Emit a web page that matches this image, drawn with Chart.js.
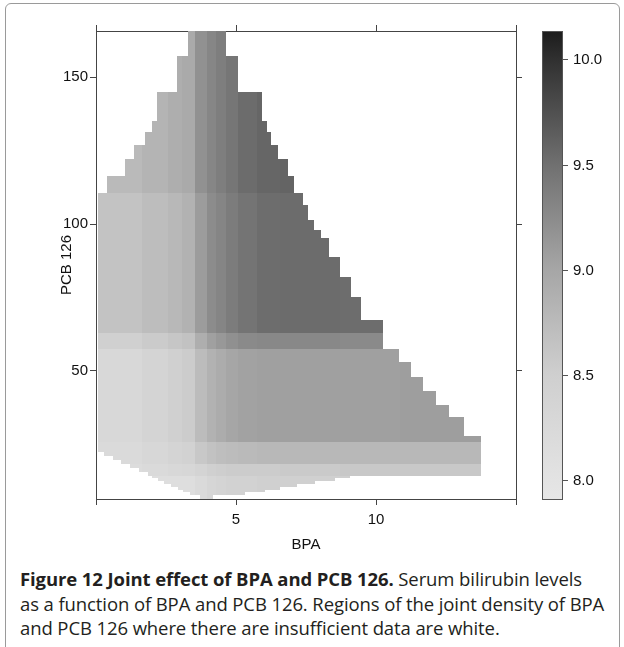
<!DOCTYPE html>
<html>
<head>
<meta charset="utf-8">
<title>Joint effect of BPA and PCB 126</title>
<script src="https://cdn.jsdelivr.net/npm/chart.js"></script>
<style>
  body { margin: 0; background: #fff; }
  #frame { position: absolute; left: 5px; top: 3px; width: 613px; height: 700px; border: 1px solid #9a9a9a; border-radius: 6px; }
  #levelplot { position: absolute; left: 0; top: 0; }
  #caption { position: absolute; left: 20px; top: 567px; font-family: "Open Sans", sans-serif; font-size: 18.5px; line-height: 24.5px; color: #231f20; white-space: nowrap; letter-spacing: -0.1px; }
  #caption b { font-weight: 700; }
</style>
</head>
<body>
<div id="frame"></div>
<canvas id="levelplot" width="624" height="560"></canvas>
<div id="caption"><b>Figure 12 Joint effect of BPA and PCB 126.</b> Serum bilirubin levels<br>as a function of BPA and PCB 126. Regions of the joint density of BPA<br>and PCB 126 where there are insufficient data are white.</div>

<script>
    // BPA column edges and PCB 126 bands, each cell carries one shade
    const bpaEdges = [0, 1.64, 2.57, 3.07, 3.54, 3.96, 4.29, 4.64, 5.07, 5.75, 6.57, 7.29, 8.71, 10.86, 13.75];
    const pcbBands = [6.46, 14.3, 18.4, 25.9, 57.5, 62.9, 110.5, 165.65];

    // fitted serum bilirubin, one row per PCB band (bottom to top), one value per BPA column
    const bilirubinG = [8.13, 8.13, 8.13, 8.13, 8.23, 8.33, 8.38, 8.43, 8.43, 8.48, 8.48, 8.48, 8.50, 8.50];
    const bilirubinF = [8.18, 8.23, 8.28, 8.30, 8.38, 8.48, 8.51, 8.54, 8.54, 8.54, 8.56, 8.56, 8.59, 8.59];
    const bilirubinE = [8.23, 8.30, 8.38, 8.43, 8.59, 8.66, 8.71, 8.73, 8.76, 8.78, 8.78, 8.78, 8.78, 8.78];
    const bilirubinD = [8.28, 8.38, 8.48, 8.54, 8.73, 8.85, 8.93, 9.00, 9.04, 9.06, 9.06, 9.06, 9.06, 9.07];
    const bilirubinC = [8.48, 8.55, 8.61, 8.66, 8.90, 9.06, 9.13, 9.20, 9.26, 9.28, 9.28, 9.28, 9.26, 9.26];
    const bilirubinB = [8.65, 8.72, 8.78, 8.85, 9.09, 9.24, 9.31, 9.39, 9.46, 9.52, 9.53, 9.53, 9.52, 9.52];
    const bilirubinA = [8.76, 8.83, 8.90, 8.95, 9.19, 9.30, 9.37, 9.44, 9.53, 9.58, 9.59, 9.59, 9.59, 9.59];
    const bilirubin = [bilirubinG, bilirubinF, bilirubinE, bilirubinD, bilirubinC, bilirubinB, bilirubinA];

    // where the joint density has enough data: PCB row edges and BPA range per row
    const densityPcb = [6.46, 7.82, 8.84, 9.52, 10.54, 11.56, 12.59, 13.61, 14.3, 15.65, 17.01, 18.4, 19.73, 21.09,
        22.45, 27.89, 34.35, 38.44, 43.2, 47.96, 53.06, 57.5, 67.35, 75.17, 81.97, 88.78, 95.24, 97.96, 101.36,
        106.46, 110.5, 116.33, 122.11, 126.87, 131.29, 135.03, 144.9, 157.14, 165.65];
    const densityBpaMin = [3.71, 3.36, 3.11, 2.93, 2.68, 2.43, 2.21, 2.0, 1.86, 1.54, 1.21, 0.89, 0.59, 0.29,
        0.08, 0.08, 0.08, 0.08, 0.08, 0.08, 0.08, 0.08, 0.08, 0.08, 0.08, 0.08, 0.08, 0.08, 0.08, 0.08,
        0.39, 1.04, 1.36, 1.75, 2.0, 2.18, 2.89, 3.29];
    const densityBpaMax = [4.18, 5.32, 6.04, 6.57, 7.18, 7.82, 8.54, 9.07, 13.75, 13.75, 13.75, 13.75, 13.75, 13.75,
        13.75, 13.14, 12.61, 12.14, 11.68, 11.25, 10.82, 10.25, 9.46, 9.11, 8.71, 8.32, 8.04, 7.79, 7.57, 7.39,
        7.07, 6.86, 6.5, 6.25, 6.11, 5.93, 5.07, 4.64];

    const bpaTicks = [0, 5, 10, 15];
    const bpaTickLabels = ['', '5', '10', ''];
    const pcbTicks = [50, 100, 150];
    const keyTicks = [8.0, 8.5, 9.0, 9.5, 10.0];

    // gray ramp of the colour key
    const rampValues = [7.91, 8.0, 8.5, 9.0, 9.5, 10.0, 10.135];
    const rampGrays = [230, 227, 207, 166, 112, 48, 28];

    function gray(g) {
        return 'rgb(' + g + ',' + g + ',' + g + ')';
    }

    function shade(v) {
        let i = 0;
        while (i < rampValues.length - 2 && v > rampValues[i + 1]) i++;
        let t = (v - rampValues[i]) / (rampValues[i + 1] - rampValues[i]);
        t = Math.min(1, Math.max(0, t));
        return gray(Math.round(rampGrays[i] + t * (rampGrays[i + 1] - rampGrays[i])));
    }

    // cut each density row by the bands and columns it crosses
    const cells = [];
    for (let r = 0; r < densityBpaMin.length; r++) {
        for (let b = 0; b < bilirubin.length; b++) {
            const y0 = Math.max(densityPcb[r], pcbBands[b]);
            const y1 = Math.min(densityPcb[r + 1], pcbBands[b + 1]);
            if (y1 <= y0) continue;
            for (let c = 0; c < bpaEdges.length - 1; c++) {
                const x0 = Math.max(densityBpaMin[r], bpaEdges[c]);
                const x1 = Math.min(densityBpaMax[r], bpaEdges[c + 1]);
                if (x1 <= x0) continue;
                cells.push({x: (x0 + x1) / 2, y: (y0 + y1) / 2, x0, x1, y0, y1, v: bilirubin[b][c]});
            }
        }
    }

    const levelCells = {
        id: 'levelCells',
        beforeDatasetsDraw(chart) {
            const {ctx, chartArea, scales: {x, y}} = chart;
            ctx.save();
            ctx.beginPath();
            ctx.rect(chartArea.left, chartArea.top, chartArea.width, chartArea.height);
            ctx.clip();
            chart.data.datasets[0].data.forEach(c => {
                const left = Math.round(x.getPixelForValue(c.x0));
                const right = Math.round(x.getPixelForValue(c.x1));
                const top = Math.round(y.getPixelForValue(c.y1));
                const bottom = Math.round(y.getPixelForValue(c.y0));
                ctx.fillStyle = shade(c.v);
                ctx.fillRect(left, top, right - left, bottom - top);
            });
            ctx.restore();
        }
    };

    // colour key to the right of the panel
    const colorKey = {
        id: 'colorKey',
        afterDraw(chart) {
            const {ctx, chartArea, scales: {cb}} = chart;
            const left = chartArea.right + 26;
            const width = 20;
            const top = Math.round(cb.getPixelForValue(cb.max));
            const bottom = Math.round(cb.getPixelForValue(cb.min));
            const grad = ctx.createLinearGradient(0, bottom, 0, top);
            rampValues.forEach((v, i) => {
                grad.addColorStop((v - cb.min) / (cb.max - cb.min), gray(rampGrays[i]));
            });
            ctx.save();
            ctx.fillStyle = grad;
            ctx.fillRect(left, top, width, bottom - top);
            ctx.strokeStyle = '#555';
            ctx.lineWidth = 1;
            ctx.strokeRect(left + 0.5, top + 0.5, width, bottom - top);
            ctx.fillStyle = '#111';
            ctx.font = '15px "Liberation Sans", Arial, sans-serif';
            ctx.textAlign = 'left';
            ctx.textBaseline = 'middle';
            keyTicks.forEach(v => {
                const py = Math.round(cb.getPixelForValue(v)) + 0.5;
                ctx.beginPath();
                ctx.moveTo(left + width, py);
                ctx.lineTo(left + width + 6, py);
                ctx.stroke();
                ctx.fillText(v.toFixed(1), left + width + 11, py);
            });
            ctx.restore();
        }
    };

    const frameColor = '#444';
    const tickFont = {family: '"Liberation Sans", Arial, sans-serif', size: 15};

    function outerGrid() {
        return {drawOnChartArea: false, drawTicks: true, tickLength: 6, color: frameColor};
    }

    new Chart(document.getElementById('levelplot'), {
        type: 'scatter',
        data: {
            datasets: [{
                data: cells,
                pointRadius: 0,
                pointHoverRadius: 0
            }]
        },
        options: {
            responsive: false,
            animation: false,
            events: [],
            layout: {padding: {left: 58, right: 102, top: 25, bottom: 6}},
            plugins: {legend: {display: false}, tooltip: {enabled: false}},
            scales: {
                x: {
                    type: 'linear', position: 'bottom', min: 0, max: 15,
                    afterBuildTicks: s => { s.ticks = bpaTicks.map(v => ({value: v})); },
                    afterFit: s => { s.height = 55; },
                    ticks: {
                        font: tickFont, color: '#111', padding: 6, maxRotation: 0,
                        callback: (v, i) => bpaTickLabels[i]
                    },
                    grid: outerGrid(),
                    border: {display: true, color: frameColor},
                    title: {display: true, text: 'BPA', font: tickFont, color: '#111', padding: 0}
                },
                y: {
                    type: 'linear', position: 'left', min: 6.46, max: 165.65,
                    afterBuildTicks: s => { s.ticks = pcbTicks.map(v => ({value: v})); },
                    afterFit: s => { s.width = 38; },
                    ticks: {font: tickFont, color: '#111', padding: 2},
                    grid: outerGrid(),
                    border: {display: true, color: frameColor},
                    title: {display: true, text: 'PCB 126', font: tickFont, color: '#111', padding: 0}
                },
                x2: {
                    type: 'linear', position: 'top', min: 0, max: 15,
                    afterBuildTicks: s => { s.ticks = bpaTicks.map(v => ({value: v})); },
                    afterFit: s => { s.height = 6; },
                    ticks: {display: false},
                    grid: outerGrid(),
                    border: {display: true, color: frameColor}
                },
                y2: {
                    type: 'linear', position: 'right', min: 6.46, max: 165.65,
                    afterBuildTicks: s => { s.ticks = pcbTicks.map(v => ({value: v})); },
                    afterFit: s => { s.width = 6; },
                    ticks: {display: false},
                    grid: outerGrid(),
                    border: {display: true, color: frameColor}
                },
                cb: {
                    type: 'linear', position: 'right', display: false, min: 7.91, max: 10.135
                }
            }
        },
        plugins: [levelCells, colorKey]
    });
</script>
</body>
</html>
